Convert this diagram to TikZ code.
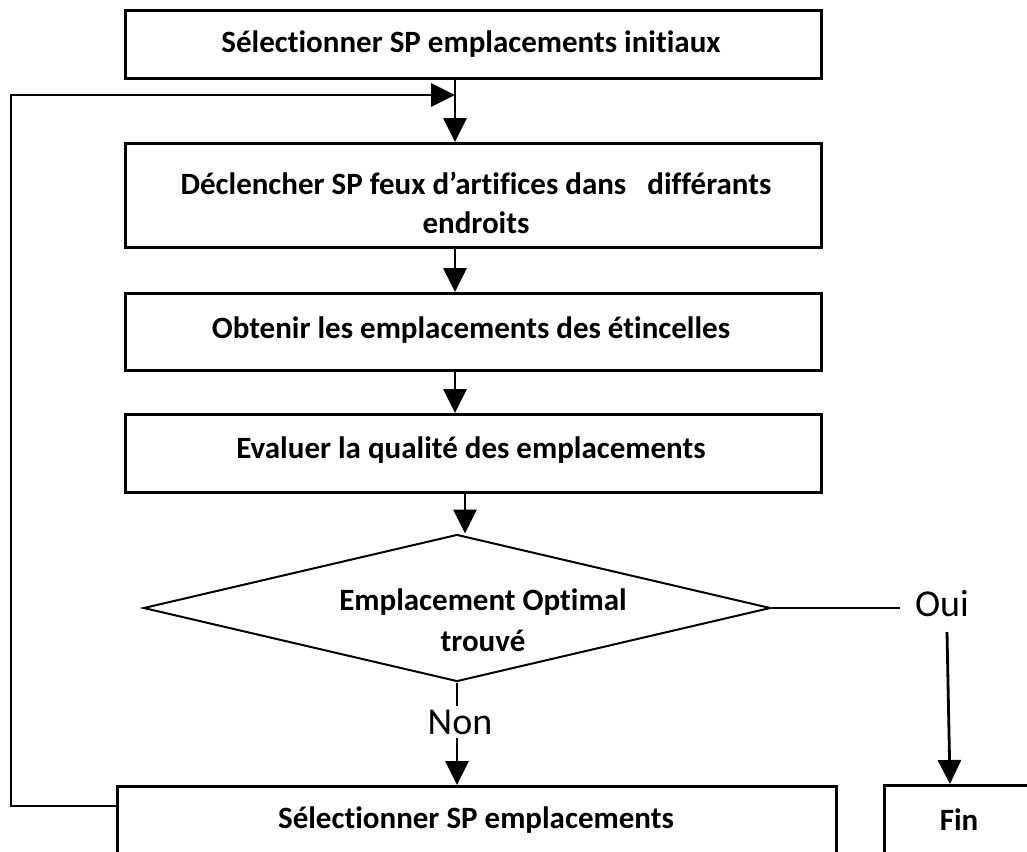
\documentclass[tikz,border=0pt]{standalone}
\usepackage{fontspec}
\setmainfont[Ligatures={NoCommon}]{Carlito}
\usetikzlibrary{arrows.meta,shapes.geometric}

\tikzset{
  stepbox/.style={draw=black, line width=3pt, inner sep=0pt, anchor=north west},
  steptext/.style={font=\fontsize{31}{39}\selectfont\bfseries, align=center, inner sep=0pt},
  decision/.style={draw=black, diamond, line width=2pt, inner sep=0pt,
    minimum width=627pt, minimum height=147pt},
  flow/.style={draw=black, line width=2.8pt, -{Triangle[length=24pt,width=23pt]}},
  plain/.style={draw=black, line width=2.4pt},
  answer/.style={font=\fontsize{38}{40}\selectfont, inner sep=0pt}
}

\begin{document}
\begin{tikzpicture}[x=1pt, y=-1pt]
  \useasboundingbox (0,0) rectangle (1027,851);
  \clip (0,0) rectangle (1027,851);

  % process boxes
  \node[stepbox, minimum width=696pt, minimum height=68pt] (init) at (124,9) {};
  \node[steptext] (initT) at (471,44) {Sélectionner SP emplacements initiaux};

  \node[stepbox, minimum width=696pt, minimum height=104pt] (fire) at (124,142) {};
  \node[steptext] (fireT) at (476,203)
    {Déclencher SP feux d’artifices dans \ \ différants\\endroits};

  \node[stepbox, minimum width=696pt, minimum height=77pt] (spark) at (124,292) {};
  \node[steptext] (sparkT) at (471,330) {Obtenir les emplacements des étincelles};

  \node[stepbox, minimum width=696pt, minimum height=78pt] (eval) at (124,413) {};
  \node[steptext] (evalT) at (471,450) {Evaluer la qualité des emplacements};

  % decision
  \node[decision] (dec) at (457,608) {};
  \node[steptext, font=\fontsize{31}{41}\selectfont\bfseries] (decT) at (483,620)
    {Emplacement Optimal\\trouvé};

  % bottom boxes, running off the lower edge
  \node[stepbox, minimum width=719pt, minimum height=120pt] (next) at (116,785) {};
  \node[steptext] (nextT) at (476,820) {Sélectionner SP emplacements};

  \node[stepbox, minimum width=160pt, minimum height=120pt] (fin) at (883,784) {};
  \node[steptext] (finT) at (959,820) {Fin};

  % straight connectors between the boxes
  \draw[flow] (init.south -| 455,0) -- (fire.north -| 455,0);
  \draw[flow] (fire.south -| 455,0) -- (spark.north -| 455,0);
  \draw[flow] (spark.south -| 455,0) -- (eval.north -| 455,0);
  \draw[flow] (eval.south -| 465,0) -- (dec.north -| 465,0);

  % loop back to the firing step
  \coordinate (l2) at (11,806);
  \coordinate (l3) at (11,95);
  \coordinate (l4) at (455,95);
  \draw[flow] (next.west |- l2) -- (l2) -- (l3) -- (l4);

  % Non branch
  \node[answer, fill=white, inner ysep=3pt] (non) at (460,722) {Non};
  \draw[plain] (dec.south) -- (dec.south |- non.north);
  \draw[flow] (dec.south |- non.south) -- (dec.south |- next.north);

  % Oui branch
  \node[answer] (oui) at (942,604) {Oui};
  \coordinate (o1) at (900,608);
  \coordinate (o2) at (947,632);
  \draw[plain] (dec.east) -- (o1);
  \draw[flow] (o2) -- (fin.north -| 950,0);
\end{tikzpicture}
\end{document}
